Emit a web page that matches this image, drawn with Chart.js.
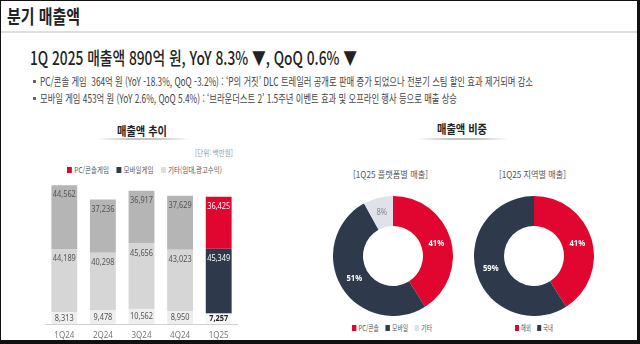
<!DOCTYPE html>
<html lang="ko">
<head>
<meta charset="utf-8">
<title>분기 매출액</title>
<script src="https://cdn.jsdelivr.net/npm/chart.js@4.4.1/dist/chart.umd.min.js"></script>
<style>
  html, body { margin: 0; padding: 0; background: #fff; }
  body {
    width: 640px; height: 344px; position: relative; overflow: hidden;
    font-family: "Noto Sans CJK KR", "Noto Sans", sans-serif; color: #222;
  }
  .frame {
    position: absolute; left: 0; top: 0; width: 640px; height: 344px; box-sizing: border-box;
    border: 1px solid #111; border-right-width: 3px; border-bottom-width: 4px; pointer-events: none;
  }
  .t { position: absolute; white-space: nowrap; line-height: 1; transform-origin: 0 50%; }
  .rule { position: absolute; left: 1px; right: 3px; top: 31px; height: 2px; background: #dedede; }
  .uline {
    position: absolute; height: 2px;
    background: linear-gradient(to right, rgba(190,190,190,0), #c4c4c4 35%, #c4c4c4 65%, rgba(190,190,190,0));
  }
  .dot { position: absolute; width: 3px; height: 3px; background: #666; }
  .legend { position: absolute; display: flex; align-items: center; white-space: nowrap;
            line-height: 1; transform-origin: 0 50%; color: #555; }
  .legend .item { display: flex; align-items: center; margin-right: 9px; }
  .legend .item:last-child { margin-right: 0; }
  .legend .sw { width: 6px; height: 6px; margin-right: 3px; display: inline-block; }
  canvas { position: absolute; }
</style>
</head>
<body>
  <div class="t" data-x="7" data-w="73" style="top:6px;font-size:19px;font-weight:700;">분기 매출액</div>
  <div class="rule"></div>

  <div class="t" data-x="30" data-w="327" style="top:48px;font-size:18px;font-weight:500;">1Q 2025 매출액 890억 원, YoY 8.3% ▼, QoQ 0.6% ▼</div>

  <div class="dot" style="left:33px;top:80px;"></div>
  <div class="t" data-x="40" data-w="493" style="top:75.5px;font-size:11.5px;color:#444;">PC/콘솔 게임&nbsp; 364억 원 (YoY -18.3%, QoQ -3.2%) : ‘P의 거짓’ DLC 트레일러 공개로 판매 증가 되었으나 전분기 스팀 할인 효과 제거되며 감소</div>
  <div class="dot" style="left:33px;top:97px;"></div>
  <div class="t" data-x="40" data-w="417" style="top:92.5px;font-size:11.5px;color:#444;">모바일 게임 453억 원 (YoY 2.6%, QoQ 5.4%) : ‘브라운더스트 2’ 1.5주년 이벤트 효과 및 오프라인 행사 등으로 매출 상승</div>

  <!-- revenue trend -->
  <div class="t" data-cx="142" data-w="50" style="top:125px;font-size:12px;font-weight:700;">매출액 추이</div>
  <div class="uline" style="left:97px;width:93px;top:138px;"></div>
  <div class="t" data-x="195" data-w="38" style="top:149px;font-size:8px;color:#999;">[단위: 백만원]</div>
  <div class="legend" id="barLegend" data-x="67" data-w="155" style="top:166px;font-size:8px;"></div>
  <canvas id="barChart" width="193" height="168" style="left:45px;top:176px;"></canvas>

  <!-- revenue share -->
  <div class="t" data-cx="462" data-w="50" style="top:123px;font-size:12px;font-weight:700;">매출액 비중</div>
  <div class="uline" style="left:417px;width:91px;top:138px;"></div>

  <div class="t" data-cx="390" data-w="75" style="top:170px;font-size:9px;color:#555;">[1Q25 플랫폼별 매출]</div>
  <canvas id="platformChart" width="120" height="120" style="left:333px;top:196px;"></canvas>
  <div class="legend" id="platformLegend" data-x="352" data-w="80" style="top:324px;font-size:8px;"></div>

  <div class="t" data-cx="532" data-w="67" style="top:170px;font-size:9px;color:#555;">[1Q25 지역별 매출]</div>
  <canvas id="regionChart" width="120" height="120" style="left:474px;top:196px;"></canvas>
  <div class="legend" id="regionLegend" data-x="515" data-w="38" style="top:324px;font-size:8px;"></div>

  <div class="frame"></div>

<script>
// Quarterly revenue (unit: KRW million)
const quarters = ['1Q24', '2Q24', '3Q24', '4Q24', '1Q25'];
const pcConsoleRevenue = [44562, 37236, 36917, 37629, 36425];
const mobileRevenue = [44189, 40298, 45656, 43023, 45349];
const otherRevenue = [8313, 9478, 10562, 8950, 7257];
const seriesNames = ['PC/콘솔게임', '모바일게임', '기타(임대,광고수익)'];

// 1Q25 revenue share (%)
const platformLabels = ['PC/콘솔', '모바일', '기타'];
const platformShare = [41, 51, 8];
const regionLabels = ['해외', '국내'];
const regionShare = [41, 59];

const RED = '#e1062f';
const NAVY = '#2e3a4c';
const LIGHT = '#dfe2e8';

// past quarters in greys, the latest quarter highlighted
const shade = (past, latest) => quarters.map((q, i) => (i === quarters.length - 1 ? latest : past));

Chart.defaults.font.family = '"Noto Sans", "Noto Sans CJK KR", sans-serif';
Chart.defaults.animation = false;

const barLabels = {
  id: 'barLabels',
  afterDatasetsDraw(chart) {
    const { ctx } = chart;
    chart.data.datasets.forEach((ds, di) => {
      const meta = chart.getDatasetMeta(di);
      meta.data.forEach((bar, i) => {
        const latest = i === ds.data.length - 1;
        const bottom = di === 0;
        const y = bottom ? (bar.y + bar.base) / 2 : bar.y + 9.5;
        ctx.save();
        ctx.translate(bar.x, y);
        ctx.scale(0.82, 1);
        ctx.font = (latest && bottom ? '700 ' : '400 ') + '9px "Noto Sans", sans-serif';
        ctx.fillStyle = latest ? (bottom ? '#222' : '#fff') : '#555';
        ctx.textAlign = 'center';
        ctx.textBaseline = 'middle';
        ctx.fillText(ds.data[i].toLocaleString('en-US'), 0, 0);
        ctx.restore();
      });
    });
  }
};

const barChart = new Chart(document.getElementById('barChart'), {
  type: 'bar',
  data: {
    labels: quarters,
    datasets: [
      { label: seriesNames[2], data: otherRevenue, backgroundColor: shade('#eeeeee', '#f7f7f7'), legendColor: '#dedede' },
      { label: seriesNames[1], data: mobileRevenue, backgroundColor: shade('#d6d6d6', NAVY), legendColor: NAVY },
      { label: seriesNames[0], data: pcConsoleRevenue, backgroundColor: shade('#b5b5b5', RED), legendColor: RED }
    ]
  },
  options: {
    responsive: false,
    devicePixelRatio: 1,
    layout: { padding: { top: 5, left: 0, right: 0, bottom: 0 } },
    datasets: { bar: { barPercentage: 0.67, categoryPercentage: 1, borderWidth: 0 } },
    plugins: { legend: { display: false }, tooltip: { enabled: false } },
    scales: {
      x: {
        stacked: true,
        grid: { display: false, drawTicks: false },
        border: { display: true, color: '#d2d2d2', width: 1 },
        ticks: { color: '#777', font: { size: 8 }, padding: 7 },
        afterFit(scale) { scale.height = 20; }
      },
      y: { stacked: true, display: false, min: 0, max: 100000 }
    }
  },
  plugins: [barLabels]
});

const arcLabels = {
  id: 'arcLabels',
  afterDatasetsDraw(chart) {
    const { ctx } = chart;
    const ds = chart.data.datasets[0];
    chart.getDatasetMeta(0).data.forEach((arc, i) => {
      const p = arc.tooltipPosition();
      const onLight = ds.backgroundColor[i] === LIGHT;
      ctx.save();
      ctx.translate(p.x, p.y);
      ctx.scale(0.9, 1);
      ctx.font = (onLight ? '400 ' : '700 ') + '8.5px "Noto Sans", sans-serif';
      ctx.fillStyle = onLight ? '#8a8a8a' : '#fff';
      ctx.textAlign = 'center';
      ctx.textBaseline = 'middle';
      ctx.fillText(ds.data[i] + '%', 0, 0);
      ctx.restore();
    });
  }
};

function donut(id, labels, values, colors) {
  return new Chart(document.getElementById(id), {
    type: 'doughnut',
    data: { labels, datasets: [{ data: values, backgroundColor: colors, borderWidth: 0 }] },
    options: {
      responsive: false,
      devicePixelRatio: 1,
      cutout: '50%',
      layout: { padding: 0 },
      plugins: { legend: { display: false }, tooltip: { enabled: false } }
    },
    plugins: [arcLabels]
  });
}

const platformChart = donut('platformChart', platformLabels, platformShare, [RED, NAVY, LIGHT]);
const regionChart = donut('regionChart', regionLabels, regionShare, [RED, NAVY]);

// HTML legends built from the chart data
function buildLegend(el, items) {
  el.innerHTML = items.map(it =>
    '<span class="item"><span class="sw" style="background:' + it.color + '"></span>' + it.text + '</span>'
  ).join('');
}
buildLegend(document.getElementById('barLegend'),
  barChart.data.datasets.slice().reverse().map(ds => ({ text: ds.label, color: ds.legendColor })));
buildLegend(document.getElementById('platformLegend'),
  platformChart.data.labels.map((l, i) => ({ text: l, color: platformChart.data.datasets[0].backgroundColor[i] })));
buildLegend(document.getElementById('regionLegend'),
  regionChart.data.labels.map((l, i) => ({ text: l, color: regionChart.data.datasets[0].backgroundColor[i] })));

// squeeze text blocks to their column widths
function fit() {
  document.querySelectorAll('[data-w]').forEach(el => {
    el.style.transform = 'none';
    const natural = el.getBoundingClientRect().width;
    const w = parseFloat(el.dataset.w);
    const left = el.dataset.cx !== undefined ? parseFloat(el.dataset.cx) - w / 2 : parseFloat(el.dataset.x);
    el.style.left = left + 'px';
    el.style.transform = 'scaleX(' + (w / natural) + ')';
  });
}
fit();
if (document.fonts && document.fonts.ready) document.fonts.ready.then(fit);
</script>
</body>
</html>
